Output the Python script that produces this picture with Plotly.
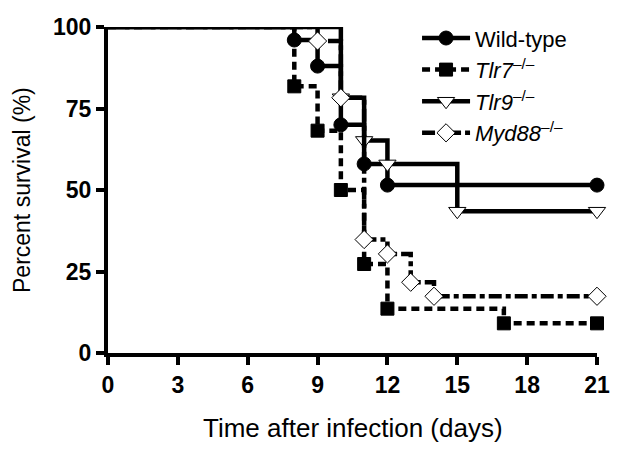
import plotly.graph_objects as go

# Kaplan-Meier step data (days, percent survival)
wt_days = [0, 8, 9, 10, 11, 12, 21]
wt_surv = [100, 96, 88, 70, 58, 51.5, 51.5]

tlr7_days = [0, 8, 9, 10, 11, 12, 17, 21]
tlr7_surv = [100, 81.8, 68.2, 50, 27.3, 13.6, 9.1, 9.1]

tlr9_days = [0, 10, 11, 12, 15, 21]
tlr9_surv = [100, 78.3, 65.2, 58, 43.5, 43.5]

myd_days = [0, 9, 10, 11, 12, 13, 14, 21]
myd_surv = [100, 95.7, 78.3, 34.8, 30.4, 21.7, 17.4, 17.4]

x_ticks = [0, 3, 6, 9, 12, 15, 18, 21]
y_ticks = [0, 25, 50, 75, 100]

FONT = "Arial, Liberation Sans, Helvetica, sans-serif"

series = [
    dict(name="Wild-type", x=wt_days, y=wt_surv, dash="solid",
         symbol="circle", mcolor="black", msize=14),
    dict(name="<i>Tlr7</i><sup>–/–</sup>", x=tlr7_days, y=tlr7_surv, dash="8px,5px",
         symbol="square", mcolor="black", msize=13),
    dict(name="<i>Tlr9</i><sup>–/–</sup>", x=tlr9_days, y=tlr9_surv, dash="solid",
         symbol="triangle-down", mcolor="white", msize=15),
    dict(name="<i>Myd88</i><sup>–/–</sup>", x=myd_days, y=myd_surv, dash="13px,4px,5px,4px",
         symbol="diamond", mcolor="white", msize=14),
]

fig = go.Figure()
for s in series:
    # step line
    fig.add_trace(go.Scatter(
        x=s["x"], y=s["y"], mode="lines", line_shape="hv",
        line=dict(color="black", width=4.5, dash=s["dash"]),
        showlegend=False, hoverinfo="skip", cliponaxis=False))
    # event markers (not at time 0)
    fig.add_trace(go.Scatter(
        x=s["x"][1:], y=s["y"][1:], mode="markers",
        marker=dict(symbol=s["symbol"], size=s["msize"], color=s["mcolor"],
                    line=dict(color="black", width=1)),
        showlegend=False, cliponaxis=False))
    # legend entry
    fig.add_trace(go.Scatter(
        x=[None], y=[None], mode="lines+markers", name=s["name"],
        line=dict(color="black", width=4.5, dash=s["dash"]),
        marker=dict(symbol=s["symbol"], size=s["msize"], color=s["mcolor"],
                    line=dict(color="black", width=1))))

# page body adds an 8px margin, so the figure is 8px smaller and offsets adjusted
fig.update_layout(
    width=613, height=442,
    margin=dict(l=100, r=24, t=19, b=97, autoexpand=False),
    paper_bgcolor="white", plot_bgcolor="white",
    font=dict(family=FONT, color="black"),
    showlegend=True,
    legend=dict(x=0.632, y=1.03, xanchor="left", yanchor="top",
                font=dict(size=22, family=FONT), bgcolor="rgba(0,0,0,0)",
                tracegroupgap=0, itemwidth=48),
    annotations=[
        dict(text="Time after infection (days)", xref="paper", yref="paper",
             x=0.5, y=0, xanchor="center", yanchor="middle", yshift=-75,
             showarrow=False, font=dict(size=26, family=FONT)),
        dict(text="Percent survival (%)", xref="paper", yref="paper",
             x=0, y=0.5, xanchor="center", yanchor="middle", xshift=-86,
             textangle=-90, showarrow=False, font=dict(size=23, family=FONT)),
    ],
)
fig.update_xaxes(
    range=[0, 21], tickvals=x_ticks, ticktext=[f"<b>{v}</b>" for v in x_ticks],
    showline=True, linecolor="black", linewidth=4, mirror=False,
    ticks="outside", ticklen=8, tickwidth=4, tickcolor="black",
    tickfont=dict(size=23, family=FONT),
    showgrid=False, zeroline=False, automargin=False,
)
fig.update_yaxes(
    range=[0, 100], tickvals=y_ticks, ticktext=[f"<b>{v}</b>" for v in y_ticks],
    showline=True, linecolor="black", linewidth=4, mirror=False,
    ticks="outside", ticklen=8, tickwidth=4, tickcolor="black",
    tickfont=dict(size=23, family=FONT),
    showgrid=False, zeroline=False, automargin=False,
)
fig.write_html("out.html")
